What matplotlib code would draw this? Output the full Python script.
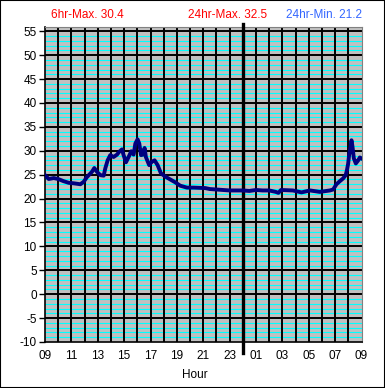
import matplotlib
matplotlib.use("Agg")
import matplotlib.pyplot as plt
from matplotlib.patches import Rectangle

plt.rcParams["font.family"] = ["Liberation Sans", "DejaVu Sans"]
plt.rcParams["axes.unicode_minus"] = False

# ----------- Data (hours after 09:00, temperature) -----------

hours = [0.0, 0.28, 0.66, 1.0, 1.4, 1.8, 2.17, 2.68, 2.93, 3.18, 3.56, 3.74,
         3.94, 4.2, 4.45, 4.57, 4.75, 4.95, 5.2, 5.46, 5.63, 5.84, 5.96, 6.14,
         6.34, 6.54, 6.72, 6.85, 7.02, 7.15, 7.28, 7.43, 7.55, 7.65, 7.9, 8.1,
         8.31, 8.54, 8.79, 9.12, 9.5, 9.88, 10.25, 10.76, 11.27, 12.15, 12.5,
         13.0, 13.5, 14.0, 15.0, 15.5, 16.0, 16.5, 17.0, 17.5, 17.7, 17.9,
         18.8, 19.45, 20.1, 20.84, 21.6, 21.85, 22.1, 22.36, 22.6, 22.8, 22.9,
         22.99, 23.06, 23.17, 23.24, 23.32, 23.42, 23.57, 23.75, 23.87, 24.0]
temps = [24.9, 24.1, 24.3, 24.1, 23.65, 23.3, 23.2, 23.0, 23.5, 24.5, 25.6, 26.4,
         25.6, 24.9, 24.8, 26.3, 28.0, 29.1, 28.7, 29.2, 29.8, 30.3, 29.1, 27.6,
         28.7, 29.9, 29.2, 31.5, 32.4, 31.5, 29.1, 29.2, 30.6, 28.7, 27.0, 27.7,
         28.0, 27.0, 25.3, 24.6, 24.0, 23.4, 22.7, 22.3, 22.3, 22.2, 22.0,
         21.9, 21.8, 21.7, 21.7, 21.6, 21.8, 21.7, 21.7, 21.4, 21.2, 21.8,
         21.7, 21.3, 21.7, 21.4, 21.7, 21.9, 23.0, 23.65, 24.2, 24.9, 26.0,
         27.35, 29.1, 30.8, 32.2, 30.8, 28.4, 27.35, 28.0, 28.6, 28.4]

tick_labels = ["09", "11", "13", "15", "17", "19", "21", "23",
               "01", "03", "05", "07", "09"]

# ----------- Plot -----------

fig = plt.figure(figsize=(3.85, 3.88), dpi=100)
fig.patches.append(Rectangle((0, 0), 1, 1, transform=fig.transFigure,
                             fill=False, edgecolor="black", linewidth=1.5))

ax = fig.add_axes([45 / 385, 46 / 388, 316.5 / 385, 315.5 / 388])
ax.set_facecolor("#C0C0C0")
ax.set_xlim(0, 24)
ax.set_ylim(-10, 56)

# cyan minor lines every degree, black every 5, black every hour
for v in range(-9, 56):
    if v % 5 != 0:
        ax.axhline(v, color="#00FFFF", linewidth=0.8, zorder=1)
for v in range(-5, 56, 5):
    ax.axhline(v, color="black", linewidth=1.4, zorder=2)
for h in range(1, 24):
    ax.axvline(h, color="black", linewidth=1.4, zorder=2)
ax.axvline(15, ymin=-0.035, ymax=1.008, color="black", linewidth=2.4,
           zorder=3, clip_on=False)

ax.plot(hours, temps, color="#000080", linewidth=2.8, zorder=4)

ax.set_yticks(range(-10, 56, 5))
ax.set_xticks(range(0, 25, 2))
ax.set_xticklabels(tick_labels)
ax.tick_params(axis="y", direction="out", length=4, width=1, labelsize=8.5, pad=2)
ax.tick_params(axis="x", length=0, labelsize=8.5, pad=6)

for side in ["top", "right"]:
    ax.spines[side].set_color("#808080")
for side in ["left", "bottom"]:
    ax.spines[side].set_color("black")
    ax.spines[side].set_linewidth(1.2)

fig.text(0.226, 0.961, "6hr-Max. 30.4", color="red", fontsize=8.5,
         ha="center", va="center")
fig.text(0.591, 0.961, "24hr-Max. 32.5", color="red", fontsize=8.5,
         ha="center", va="center")
fig.text(0.842, 0.961, "24hr-Min. 21.2", color="#3366FF", fontsize=8.5,
         ha="center", va="center")
fig.text(0.506, 0.034, "Hour", color="black", fontsize=8.5,
         ha="center", va="center")

fig.savefig("out.png", dpi=100)
